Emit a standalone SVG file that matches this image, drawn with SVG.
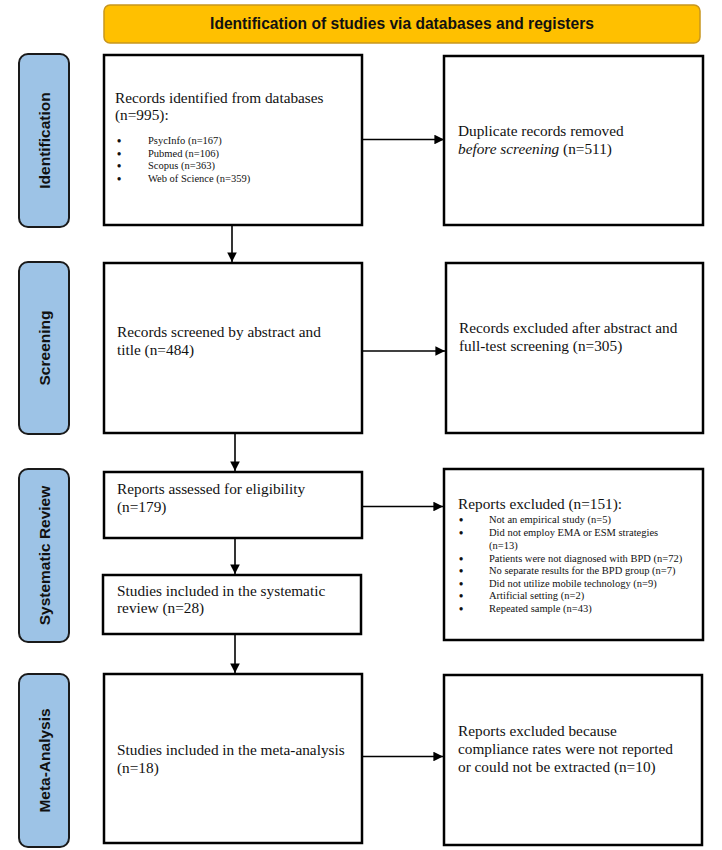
<svg xmlns="http://www.w3.org/2000/svg" width="722" height="850" viewBox="0 0 722 850">
<defs>
<marker id="ah" viewBox="0 0 10 10" refX="10" refY="5" markerWidth="6" markerHeight="6" orient="auto" markerUnits="strokeWidth">
<path d="M0,0 L10,5 L0,10 z" fill="#000"/>
</marker>
<style>
.box{fill:#fff;stroke:#000;stroke-width:2.5}
.side{fill:#9DC3E6;stroke:#1a1a1a;stroke-width:2}
.side-t{font-family:"Liberation Sans",Arial,sans-serif;font-weight:bold;font-size:15.5px;fill:#111;text-anchor:middle}
.t{font-family:"Liberation Serif","Times New Roman",serif;font-size:15.3px;fill:#111}
.s{font-family:"Liberation Serif","Times New Roman",serif;font-size:10.5px;fill:#111}
.b{font-size:12px;font-weight:bold}
.conn{stroke:#000;stroke-width:1.6;fill:none}
</style>
</defs>
<rect width="722" height="850" fill="#fff"/>

<g id="header">
<rect x="104" y="5" width="596" height="38" rx="6" fill="#FFC000" stroke="#C8961E" stroke-width="1.5"/>
<text x="402" y="29" font-family="Liberation Sans,Arial,sans-serif" font-weight="bold" font-size="15.6px" fill="#111" text-anchor="middle">Identification of studies via databases and registers</text>
</g>

<g id="label-identification">
<rect class="side" x="19" y="54" width="50" height="173" rx="9"/>
<text class="side-t" transform="translate(50,140.5) rotate(-90)">Identification</text>
</g>
<g id="label-screening">
<rect class="side" x="19" y="262" width="50" height="172" rx="9"/>
<text class="side-t" transform="translate(50,348) rotate(-90)">Screening</text>
</g>
<g id="label-systematic">
<rect class="side" x="19" y="469" width="50" height="173" rx="9"/>
<text class="side-t" transform="translate(50,555.5) rotate(-90)">Systematic Review</text>
</g>
<g id="label-meta">
<rect class="side" x="19" y="674" width="50" height="173" rx="9"/>
<text class="side-t" transform="translate(50,760.5) rotate(-90)">Meta-Analysis</text>
</g>

<g id="records-identified">
<rect class="box" x="104" y="55" width="258" height="170"/>
<text class="t" x="115" y="103">Records identified from databases</text>
<text class="t" x="115" y="120">(n=995):</text>
<g class="s">
<text class="b" x="117" y="145">•</text><text x="148" y="144">PsycInfo (n=167)</text>
<text class="b" x="117" y="157.5">•</text><text x="148" y="156.5">Pubmed (n=106)</text>
<text class="b" x="117" y="170">•</text><text x="148" y="169">Scopus (n=363)</text>
<text class="b" x="117" y="182.5">•</text><text x="148" y="181.5">Web of Science (n=359)</text>
</g>
</g>

<g id="duplicates">
<rect class="box" x="444" y="56" width="259" height="169"/>
<text class="t" x="458" y="136">Duplicate records removed</text>
<text class="t" x="458" y="154"><tspan font-style="italic">before screening</tspan> (n=511)</text>
</g>

<g id="records-screened">
<rect class="box" x="104" y="263" width="258" height="170"/>
<text class="t" x="117" y="337">Records screened by abstract and</text>
<text class="t" x="117" y="355">title (n=484)</text>
</g>

<g id="records-excluded">
<rect class="box" x="446" y="263" width="257" height="170"/>
<text class="t" x="459" y="333">Records excluded after abstract and</text>
<text class="t" x="459" y="351">full-test screening (n=305)</text>
</g>

<g id="reports-assessed">
<rect class="box" x="104" y="472" width="258" height="66"/>
<text class="t" x="117" y="494">Reports assessed for eligibility</text>
<text class="t" x="117" y="512">(n=179)</text>
</g>

<g id="reports-excluded">
<rect class="box" x="444" y="469" width="259" height="171"/>
<text class="t" x="458" y="509">Reports excluded (n=151):</text>
<g class="s">
<text class="b" x="459" y="524">•</text><text x="489" y="523">Not an empirical study (n=5)</text>
<text class="b" x="459" y="537">•</text><text x="489" y="536">Did not employ EMA or ESM strategies</text>
<text x="489" y="548.5">(n=13)</text>
<text class="b" x="459" y="562.5">•</text><text x="489" y="561.5">Patients were not diagnosed with BPD (n=72)</text>
<text class="b" x="459" y="575">•</text><text x="489" y="574">No separate results for the BPD group (n=7)</text>
<text class="b" x="459" y="587.5">•</text><text x="489" y="586.5">Did not utilize mobile technology (n=9)</text>
<text class="b" x="459" y="600">•</text><text x="489" y="599">Artificial setting (n=2)</text>
<text class="b" x="459" y="612.5">•</text><text x="489" y="611.5">Repeated sample (n=43)</text>
</g>
</g>

<g id="studies-sr">
<rect class="box" x="103" y="575" width="258" height="59"/>
<text class="t" x="117" y="596">Studies included in the systematic</text>
<text class="t" x="117" y="613">review (n=28)</text>
</g>

<g id="studies-ma">
<rect class="box" x="104" y="674" width="258" height="169"/>
<text class="t" x="117" y="755">Studies included in the meta-analysis</text>
<text class="t" x="117" y="773">(n=18)</text>
</g>

<g id="excluded-ma">
<rect class="box" x="444" y="675" width="258" height="170"/>
<text class="t" x="458" y="736">Reports excluded because</text>
<text class="t" x="458" y="754">compliance rates were not reported</text>
<text class="t" x="458" y="772">or could not be extracted (n=10)</text>
</g>

<g id="connectors">
<line class="conn" x1="363" y1="139.5" x2="444" y2="139.5" marker-end="url(#ah)"/>
<line class="conn" x1="232" y1="226" x2="232" y2="262" marker-end="url(#ah)"/>
<line class="conn" x1="363" y1="351" x2="445" y2="351" marker-end="url(#ah)"/>
<line class="conn" x1="235" y1="434" x2="235" y2="471" marker-end="url(#ah)"/>
<line class="conn" x1="363" y1="506.5" x2="443" y2="506.5" marker-end="url(#ah)"/>
<line class="conn" x1="235" y1="539" x2="235" y2="574" marker-end="url(#ah)"/>
<line class="conn" x1="235" y1="635" x2="235" y2="673" marker-end="url(#ah)"/>
<line class="conn" x1="363" y1="756.5" x2="443" y2="756.5" marker-end="url(#ah)"/>
</g>
</svg>
